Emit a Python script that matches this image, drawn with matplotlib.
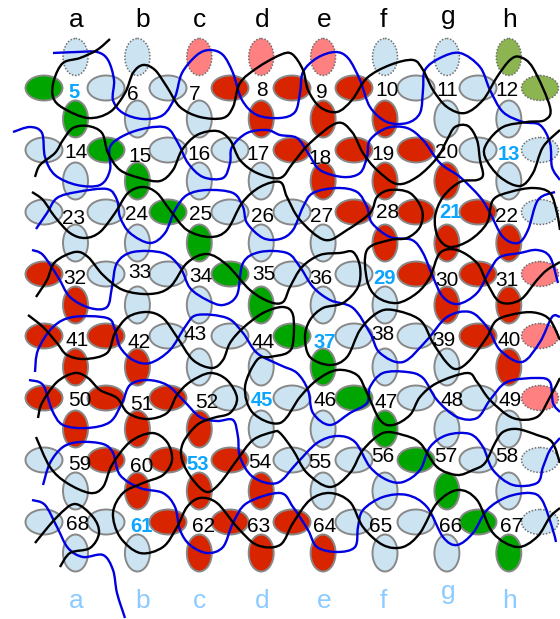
import matplotlib
matplotlib.use('Agg')
import matplotlib.pyplot as plt
from matplotlib.patches import Ellipse, PathPatch
from matplotlib.path import Path

plt.rcParams['font.family'] = ['Liberation Sans', 'DejaVu Sans']

# ellipse colours, one string per row: b blue, g green, r red, p pink, o olive
across = ["gbbrrrbbo", "bgbbrrrbb", "bbgbbrrrb", "rbbgbbrrp",
          "rrbbgbbrp", "rrrbbgbbp", "brrrbbgbb", "bbrrrbbgb"]
down = ["bbpppbbo", "gbbrrrbb", "bgbbrrrb", "bbgbbrrr", "rbbgbbrr",
        "rrbbgbbr", "rrrbbgbb", "brrrbbgb", "bbrrrbbg"]

column_names = list("abcdefgh")

# number in each cell with where it sits; the blue bold ones are the special cells
numbers = [
    [(5, 74, 92), (6, 133, 95), (7, 195, 95), (8, 262, 90), (9, 322, 92), (10, 387, 90), (11, 447, 90), (12, 507, 91)],
    [(14, 76, 153), (15, 140, 156), (16, 199, 155), (17, 258, 155), (18, 320, 158), (19, 383, 155), (20, 447, 153), (13, 509, 155)],
    [(23, 74, 219), (24, 137, 215), (25, 201, 215), (26, 263, 217), (27, 322, 217), (28, 388, 213), (21, 450, 212), (22, 506, 217)],
    [(32, 75, 279), (33, 140, 273), (34, 201, 276), (35, 264, 274), (36, 321, 279), (29, 384, 279), (30, 447, 281), (31, 507, 281)],
    [(41, 77, 341), (42, 139, 342), (43, 195, 334), (44, 263, 343), (37, 325, 342), (38, 383, 334), (39, 444, 341), (40, 509, 341)],
    [(50, 80, 401), (51, 142, 405), (52, 207, 402), (45, 262, 400), (46, 325, 400), (47, 386, 403), (48, 452, 401), (49, 510, 401)],
    [(59, 80, 464), (60, 142, 466), (53, 198, 464), (54, 260, 463), (55, 320, 463), (56, 383, 457), (57, 446, 457), (58, 507, 457)],
    [(68, 78, 524), (61, 141, 526), (62, 204, 526), (63, 259, 526), (64, 325, 526), (65, 381, 526), (66, 451, 526), (67, 512, 526)],
]
special = [5, 13, 21, 29, 37, 45, 53, 61]

black_curves = [
    [(110, 39), (97, 50), (80, 58), (63, 63), (54, 80), (53, 97), (63, 108), (88, 118), (110, 112), (125, 93), (133, 73), (143, 65), (155, 70), (167, 87), (180, 107), (200, 117), (223, 118), (233, 107), (240, 83), (257, 68), (280, 55), (292, 54), (303, 70), (308, 90), (320, 107), (337, 112), (352, 100), (367, 78), (390, 65), (413, 60), (423, 70), (433, 90), (447, 107), (465, 113), (483, 100), (497, 77), (510, 60), (520, 57), (533, 68), (550, 107), (545, 120), (527, 122), (503, 127), (487, 143), (485, 157), (500, 177), (520, 186), (533, 173), (543, 147), (560, 130)],
    [(35, 177), (40, 165), (55, 153), (63, 140), (73, 128), (88, 126), (102, 133), (108, 153), (120, 170), (140, 178), (160, 181), (173, 170), (182, 150), (197, 135), (217, 131), (230, 140), (240, 160), (257, 173), (280, 178), (293, 163), (310, 143), (337, 123), (352, 132), (363, 153), (377, 170), (397, 184), (417, 177), (437, 158), (447, 140), (455, 127), (468, 126), (477, 140), (480, 160), (483, 175), (477, 180), (460, 182), (443, 197), (435, 217), (438, 237), (450, 247), (470, 240), (487, 223), (493, 200), (510, 192), (533, 188), (550, 193), (557, 213), (560, 230)],
    [(32, 192), (43, 200), (55, 217), (70, 233), (85, 238), (100, 232), (115, 213), (128, 193), (143, 187), (157, 193), (170, 210), (187, 230), (210, 237), (227, 230), (242, 203), (260, 187), (280, 182), (287, 197), (300, 220), (325, 240), (347, 230), (370, 213), (377, 197), (390, 190), (410, 193), (422, 210), (420, 227), (407, 238), (390, 240), (367, 250), (367, 280), (377, 297), (397, 303), (417, 293), (430, 277), (440, 253), (457, 250), (477, 263), (487, 283), (500, 302), (520, 300), (537, 280), (547, 270), (560, 262)],
    [(36, 297), (47, 280), (55, 262), (75, 252), (88, 257), (103, 275), (123, 290), (150, 294), (170, 287), (187, 263), (207, 254), (227, 265), (250, 290), (270, 302), (283, 302), (290, 287), (302, 267), (320, 255), (340, 253), (353, 252), (360, 267), (358, 287), (343, 303), (323, 308), (310, 320), (305, 337), (310, 357), (330, 365), (347, 357), (360, 330), (377, 313), (393, 310), (420, 320), (433, 343), (447, 363), (457, 369), (470, 360), (487, 337), (497, 320), (520, 313), (537, 313), (550, 320), (560, 340)],
    [(28, 315), (43, 327), (57, 343), (67, 355), (85, 359), (107, 353), (115, 333), (128, 317), (147, 312), (163, 318), (177, 337), (193, 360), (212, 368), (223, 360), (230, 343), (243, 328), (263, 313), (283, 307), (293, 315), (293, 343), (287, 353), (270, 357), (257, 360), (245, 387), (253, 413), (280, 423), (300, 397), (317, 380), (337, 370), (357, 375), (367, 393), (380, 420), (393, 425), (410, 415), (420, 397), (437, 383), (467, 373), (477, 382), (490, 400), (513, 418), (537, 417), (550, 397), (560, 378)],
    [(38, 418), (42, 403), (57, 382), (75, 373), (88, 378), (100, 390), (117, 398), (128, 413), (147, 419), (167, 413), (177, 395), (190, 382), (210, 373), (227, 380), (237, 398), (230, 413), (213, 418), (197, 425), (183, 443), (182, 460), (193, 480), (207, 492), (220, 483), (237, 460), (253, 440), (273, 432), (280, 433), (293, 450), (307, 473), (330, 487), (350, 473), (363, 450), (383, 433), (403, 435), (420, 443), (437, 467), (457, 475), (473, 470), (485, 463), (495, 443), (503, 432), (517, 429), (537, 435), (552, 442), (560, 463)],
    [(36, 437), (50, 467), (67, 483), (90, 493), (103, 487), (112, 465), (130, 442), (152, 433), (167, 442), (172, 460), (163, 475), (143, 483), (123, 493), (113, 513), (120, 537), (140, 553), (163, 547), (177, 527), (187, 507), (200, 498), (217, 503), (237, 527), (257, 545), (280, 545), (293, 523), (310, 500), (330, 493), (350, 502), (363, 527), (383, 545), (403, 547), (420, 533), (437, 503), (458, 490), (477, 500), (493, 533), (517, 547), (537, 537), (550, 517), (560, 508)],
    [(35, 543), (57, 517), (75, 504), (93, 517), (99, 533), (90, 548), (70, 553), (60, 567)],
]

blue_curves = [
    [(53, 53), (77, 52), (97, 52), (108, 60), (114, 80), (113, 100), (123, 113), (143, 119), (163, 115), (175, 97), (182, 73), (197, 55), (210, 50), (223, 55), (233, 73), (242, 100), (257, 115), (280, 118), (295, 112), (300, 93), (303, 72), (317, 58), (335, 52), (348, 58), (360, 80), (370, 107), (387, 122), (407, 123), (420, 113), (423, 90), (425, 70), (440, 58), (460, 53), (480, 67), (490, 90), (503, 112), (523, 122), (540, 125), (550, 143), (552, 167), (560, 180)],
    [(13, 132), (30, 127), (42, 133), (45, 157), (55, 175), (77, 185), (100, 185), (110, 170), (110, 147), (125, 135), (147, 128), (167, 128), (178, 143), (188, 163), (203, 177), (223, 178), (230, 163), (232, 147), (247, 133), (267, 130), (280, 135), (297, 138), (308, 153), (320, 170), (343, 177), (360, 173), (367, 157), (370, 140), (387, 128), (407, 128), (423, 140), (440, 163), (460, 177), (480, 197), (490, 213), (503, 237), (518, 243), (528, 230), (538, 200), (555, 192)],
    [(36, 229), (47, 213), (57, 198), (77, 192), (107, 189), (117, 200), (120, 217), (130, 233), (150, 243), (165, 233), (175, 210), (187, 195), (207, 190), (233, 193), (243, 207), (247, 223), (263, 238), (280, 239), (293, 230), (303, 207), (313, 193), (337, 188), (357, 192), (367, 207), (372, 223), (390, 237), (412, 240), (423, 253), (433, 277), (443, 297), (458, 304), (477, 293), (490, 270), (500, 257), (520, 253), (537, 250), (550, 257), (558, 283)],
    [(32, 250), (43, 255), (58, 277), (70, 297), (90, 308), (107, 307), (112, 287), (117, 263), (133, 252), (163, 253), (180, 267), (190, 288), (207, 300), (223, 305), (237, 295), (243, 263), (260, 252), (287, 253), (300, 267), (313, 287), (330, 300), (353, 308), (370, 333), (380, 353), (403, 362), (427, 340), (447, 317), (470, 312), (487, 327), (500, 350), (522, 362), (540, 342), (552, 317), (560, 317)],
    [(35, 372), (38, 350), (53, 327), (73, 317), (107, 318), (115, 330), (120, 347), (133, 360), (150, 363), (170, 350), (185, 327), (197, 315), (227, 318), (243, 333), (257, 353), (280, 365), (297, 373), (308, 390), (313, 413), (330, 425), (350, 413), (367, 403), (370, 387), (383, 373), (407, 372), (423, 378), (437, 400), (457, 417), (477, 418), (490, 400), (507, 382), (537, 378), (550, 382), (553, 403), (560, 412)],
    [(29, 380), (43, 385), (52, 410), (63, 425), (87, 428), (110, 422), (122, 403), (130, 385), (147, 380), (167, 385), (183, 400), (200, 417), (217, 421), (233, 420), (238, 437), (240, 457), (253, 477), (277, 483), (297, 463), (317, 443), (337, 436), (355, 442), (370, 467), (387, 480), (403, 482), (420, 470), (430, 447), (447, 435), (470, 434), (483, 447), (493, 470), (513, 485), (537, 483), (543, 467), (550, 450), (560, 438)],
    [(43, 485), (50, 463), (63, 447), (80, 442), (103, 444), (113, 453), (120, 475), (140, 488), (163, 493), (175, 507), (180, 530), (190, 545), (207, 553), (223, 547), (233, 523), (247, 503), (280, 493), (293, 507), (308, 530), (317, 547), (337, 552), (355, 547), (358, 527), (363, 510), (383, 497), (407, 495), (427, 507), (443, 537), (457, 545), (473, 533), (487, 510), (507, 497), (530, 493), (542, 500), (552, 527), (556, 542)],
    [(32, 500), (45, 505), (57, 527), (68, 548), (83, 557), (103, 555), (113, 570), (117, 593), (125, 618)],
]

fill_colors = {'b': '#cce3f2', 'g': '#00a500', 'r': '#d92400', 'p': '#ff8080', 'o': '#8cb450'}


def smooth_path(points):
    """Catmull-Rom through the read points, written as bezier segments."""
    verts = [points[0]]
    codes = [Path.MOVETO]
    for i in range(len(points) - 1):
        p0 = points[max(i - 1, 0)]
        p1 = points[i]
        p2 = points[i + 1]
        p3 = points[min(i + 2, len(points) - 1)]
        verts.append((p1[0] + (p2[0] - p0[0]) / 6, p1[1] + (p2[1] - p0[1]) / 6))
        verts.append((p2[0] - (p3[0] - p1[0]) / 6, p2[1] - (p3[1] - p1[1]) / 6))
        verts.append(p2)
        codes += [Path.CURVE4] * 3
    return Path(verts, codes)


def add_ellipse(ax, x, y, w, h, code, dotted):
    if dotted:
        ax.add_patch(Ellipse((x, y), w, h, facecolor=fill_colors[code], edgecolor='#6e6e6e', lw=1.1, linestyle=(0, (1, 1.1))))
    else:
        ax.add_patch(Ellipse((x, y), w, h, facecolor=fill_colors[code], edgecolor='#888888', lw=1.4))


fig = plt.figure(figsize=(5.6, 6.19), dpi=100)
ax = fig.add_axes([0, 0, 1, 1])
ax.set_xlim(0, 560)
ax.set_ylim(619, 0)
ax.axis('off')

for r, row in enumerate(across):
    for c, code in enumerate(row):
        add_ellipse(ax, 44 + 62 * c, 88 + 62 * r, 37, 25, code, c == 8)

for r, row in enumerate(down):
    for c, code in enumerate(row):
        add_ellipse(ax, 75.5 + 61.9 * c, 57 + 62 * r, 25, 37, code, r == 0)

for row in numbers:
    for value, x, y in row:
        if value in special:
            ax.text(x, y, str(value), color='#0aa5ff', fontsize=14.5, fontweight='bold', ha='center', va='center', zorder=3)
        else:
            ax.text(x, y, str(value), color='black', fontsize=15, ha='center', va='center', zorder=3)

name_x = [76, 143, 200, 262, 324, 383, 448, 510]
for name, x in zip(column_names, name_x):
    shift = 3 if name == 'g' else 0
    ax.text(x, 27 - shift, name, color='black', fontsize=19, ha='center', va='baseline')
    ax.text(x, 608.5 - 3 * shift, name, color='#8ccbff', fontsize=19, ha='center', va='baseline')

for points in blue_curves:
    ax.add_patch(PathPatch(smooth_path(points), facecolor='none', edgecolor='#0000e0', lw=1.7, zorder=4))
for points in black_curves:
    ax.add_patch(PathPatch(smooth_path(points), facecolor='none', edgecolor='black', lw=1.7, zorder=5))

fig.savefig('out.png', dpi=100)
